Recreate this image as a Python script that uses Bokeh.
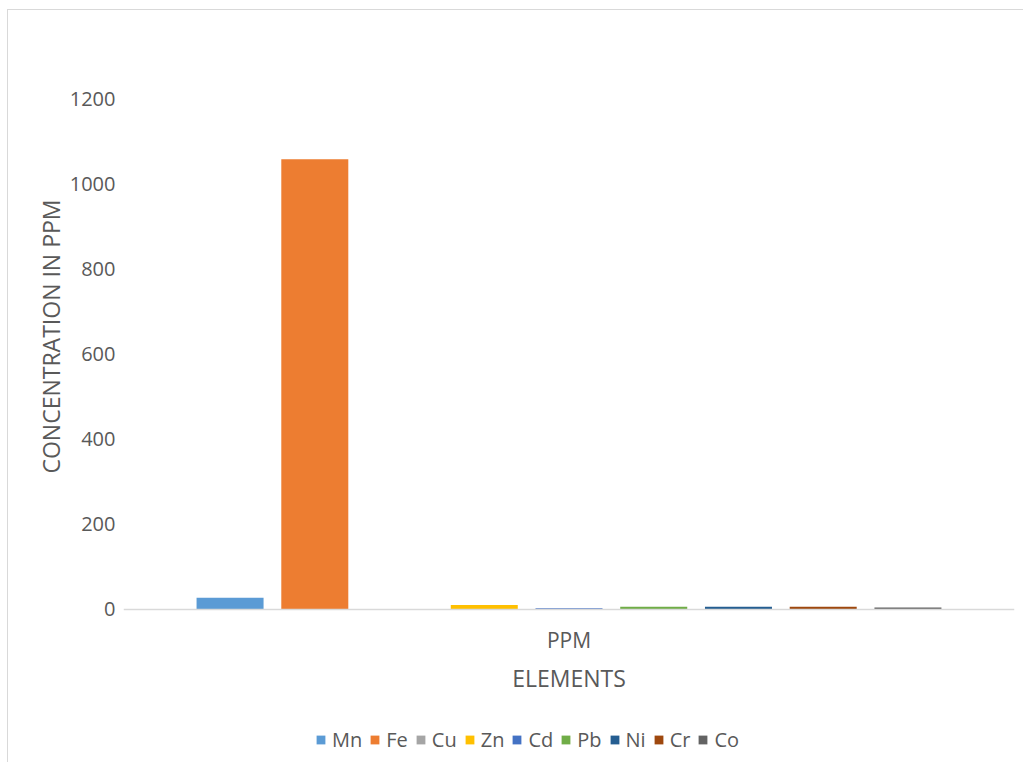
from bokeh.embed import file_html
from bokeh.models import (ColumnDataSource, FactorRange, FixedTicker, Legend,
                          LegendItem, Range1d, Title)
from bokeh.plotting import figure
from bokeh.resources import INLINE
from bokeh.transform import dodge

# Element concentrations (ppm), one bar per element in a single category
category = ["PPM"]
elements = ["Mn", "Fe", "Cu", "Zn", "Cd", "Pb", "Ni", "Cr", "Co"]
ppm = [27, 1057, -2, 10, 2, 6, 6, 6, 4]
colors = ["#5B9BD5", "#ED7D31", "#A5A5A5", "#FFC000", "#4472C4",
          "#70AD47", "#255E91", "#9E480E", "#636363"]
y_ticks = [0, 200, 400, 600, 800, 1000, 1200]

FONT = "Open Sans"
TEXT = "#595959"
GRID = "#D9D9D9"

# The value axis runs from 0 to 1200; the plot area continues below zero so
# that the category labels and the legend can sit under the baseline.
p = figure(width=1016, height=753,
           x_range=FactorRange(factors=category),
           y_range=Range1d(-362.5, 1200),
           output_backend="svg", toolbar_location=None,
           min_border_left=115, min_border_right=10,
           min_border_top=88, min_border_bottom=0,
           background_fill_color="white", border_fill_color="white")
# light chart-area border (left and top edges)
p.margin = (9, 0, 0, 7)
p.styles = {"border-left": "1px solid #D9D9D9", "border-top": "1px solid #D9D9D9"}
p.outline_line_color = None
p.grid.visible = False

# bars: evenly spread across the single category
n = len(elements)
step = 0.0951
bar_w = 0.0752
items = []
for i, (el, v, c) in enumerate(zip(elements, ppm, colors)):
    src = ColumnDataSource(dict(x=category, top=[v]))
    r = p.vbar(x=dodge("x", (i - (n - 1) / 2) * step, range=p.x_range),
               top="top", bottom=0, width=bar_w, source=src,
               fill_color=c, line_color=None)
    items.append(LegendItem(label=el, renderers=[r]))

# category axis drawn along the zero line
xa = p.xaxis[0]
xa.fixed_location = 0
xa.axis_line_color = GRID
xa.axis_line_width = 1.5
xa.major_tick_line_color = None
xa.minor_tick_line_color = None
xa.major_tick_out = 0
xa.major_label_text_font = FONT
xa.major_label_text_font_size = "21px"
xa.major_label_text_color = TEXT
xa.major_label_standoff = 17
xa.axis_label = "ELEMENTS"
xa.axis_label_text_font = FONT
xa.axis_label_text_font_size = "23px"
xa.axis_label_text_font_style = "normal"
xa.axis_label_text_color = TEXT
xa.axis_label_standoff = 4

# value axis
ya = p.yaxis[0]
ya.ticker = FixedTicker(ticks=y_ticks)
ya.axis_line_color = None
ya.major_tick_line_color = None
ya.minor_tick_line_color = None
ya.major_tick_out = 0
ya.major_label_text_font = FONT
ya.major_label_text_font_size = "20px"
ya.major_label_text_color = TEXT
ya.major_label_standoff = 8

# value axis title, its upper end 101px below the top of the plot area
p.add_layout(Title(text="CONCENTRATION IN PPM", align="right", offset=101,
                   text_font=FONT, text_font_size="23px",
                   text_font_style="normal", text_color=TEXT, standoff=0),
             "left")

# legend under the axis title
legend = Legend(items=items, orientation="horizontal", location=(192, 10),
                glyph_width=11, glyph_height=11, label_standoff=6, spacing=7,
                padding=0, margin=0, border_line_color=None,
                background_fill_alpha=0,
                label_text_font=FONT, label_text_font_size="20px",
                label_text_color=TEXT)
p.add_layout(legend, "center")

open("out.html", "w").write(file_html(p, INLINE))
